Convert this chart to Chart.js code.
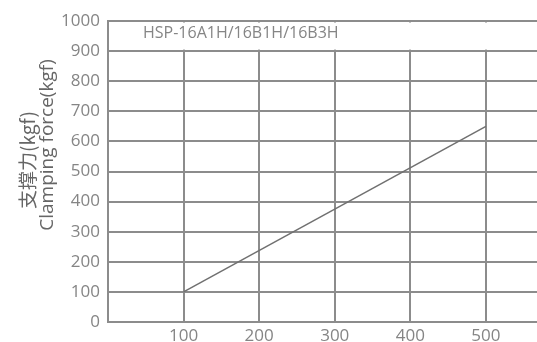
<!DOCTYPE html>
<html>
<head>
<meta charset="utf-8">
<script src="https://cdn.jsdelivr.net/npm/chart.js@4"></script>
<style>
  html, body { margin: 0; padding: 0; background: #fff; overflow: hidden; }
  #wrap { width: 560px; height: 342px; }
</style>
</head>
<body>
<div id="wrap"><canvas id="forceChart"></canvas></div>
<script>
// chart data
const strokeMm = [100, 500];
const clampKgf = [100, 650];
const xTicks = [100, 200, 300, 400, 500];
const modelName = 'HSP-16A1H/16B1H/16B3H';
const yTitleZh = '支撑力(kgf)';
const yTitleEn = 'Clamping force(kgf)';

const gridColor = '#8c8c8c';
const textColor = '#858585';

// blank the top band (900-1000) and write the model name + y title
const extras = {
    id: 'extras',
    beforeDatasetsDraw(chart) {
        const ctx = chart.ctx;
        const area = chart.chartArea;
        const y = chart.scales.y;
        const top = y.getPixelForValue(1000);
        const bottom = y.getPixelForValue(900);
        ctx.save();
        ctx.fillStyle = '#fff';
        ctx.fillRect(area.left + 1.5, top + 1.5, area.right - area.left, bottom - top - 3);
        ctx.fillStyle = textColor;
        ctx.font = '16px "Open Sans"';
        ctx.textBaseline = 'alphabetic';
        ctx.fillText(modelName, 143, 38);
        ctx.restore();
    },
    afterDraw(chart) {
        const ctx = chart.ctx;
        ctx.save();
        ctx.fillStyle = '#666';
        ctx.textAlign = 'center';
        ctx.textBaseline = 'middle';
        ctx.translate(28, 160);
        ctx.rotate(-Math.PI / 2);
        ctx.font = '19px "Noto Sans CJK SC", "Open Sans"';
        ctx.fillText(yTitleZh, 0, 0);
        ctx.restore();
        ctx.save();
        ctx.fillStyle = '#666';
        ctx.textAlign = 'center';
        ctx.textBaseline = 'middle';
        ctx.translate(48, 145);
        ctx.rotate(-Math.PI / 2);
        ctx.font = '19px "Open Sans"';
        ctx.fillText(yTitleEn, 0, 0);
        ctx.restore();
    }
};

const ctx = document.getElementById('forceChart').getContext('2d');
new Chart(ctx, {
    type: 'scatter',
    data: {
        datasets: [{
            data: strokeMm.map((x, i) => ({ x: x, y: clampKgf[i] })),
            showLine: true,
            borderColor: '#707070',
            borderWidth: 1.5,
            pointRadius: 0,
            fill: false
        }]
    },
    options: {
        responsive: true,
        maintainAspectRatio: false,
        animation: false,
        layout: { padding: { top: 21, right: 0, left: 0, bottom: 0 } },
        plugins: { legend: { display: false }, tooltip: { enabled: false } },
        scales: {
            x: {
                type: 'linear',
                min: 0,
                max: 598,
                afterBuildTicks: (scale) => { scale.ticks = xTicks.map(v => ({ value: v })); },
                afterFit: (scale) => { scale.height = 20; },
                grid: { color: gridColor, lineWidth: 2, drawTicks: false },
                border: { color: gridColor, width: 2 },
                ticks: { color: textColor, font: { family: 'Open Sans', size: 17 }, padding: 4, maxRotation: 0 }
            },
            y: {
                min: 0,
                max: 1000,
                afterFit: (scale) => { scale.width = 108; },
                grid: { color: gridColor, lineWidth: 2, drawTicks: true, tickLength: 6, tickColor: '#fff' },
                border: { color: gridColor, width: 2 },
                ticks: {
                    stepSize: 100,
                    color: textColor,
                    font: { family: 'Open Sans', size: 17 },
                    padding: 2,
                    callback: (v) => String(v)
                }
            }
        }
    },
    plugins: [extras]
});
</script>
</body>
</html>
